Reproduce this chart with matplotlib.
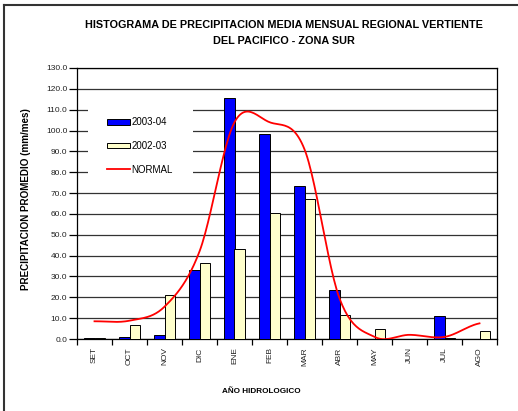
import numpy as np
import matplotlib
matplotlib.use("Agg")
import matplotlib.pyplot as plt
from matplotlib.patches import Patch, Rectangle
from matplotlib.lines import Line2D

plt.rcParams['font.family'] = ['Liberation Sans', 'DejaVu Sans']

meses = ['SET', 'OCT', 'NOV', 'DIC', 'ENE', 'FEB', 'MAR', 'ABR', 'MAY', 'JUN', 'JUL', 'AGO']
p_2003_04 = [0.3, 1.0, 2.0, 33.0, 115.5, 98.5, 73.5, 23.5, 0.0, 0.0, 11.2, 0.0]
p_2002_03 = [0.3, 6.5, 21.0, 36.5, 43.0, 60.5, 67.0, 11.5, 5.0, 0.0, 0.3, 3.8]
normal = [8.5, 8.8, 15.5, 42.0, 104.0, 104.0, 91.0, 19.5, 1.0, 2.0, 1.0, 7.5]


def smooth(y, n=25):
    # catmull-rom like the excel smoothed line
    y = np.asarray(y, dtype=float)
    p = np.concatenate([[y[0]], y, [y[-1]]])
    xs, ys = [], []
    for i in range(len(y) - 1):
        p0, p1, p2, p3 = p[i], p[i + 1], p[i + 2], p[i + 3]
        t = np.linspace(0, 1, n, endpoint=False)
        m1 = (p2 - p0) / 2
        m2 = (p3 - p1) / 2
        h = (2*t**3 - 3*t**2 + 1) * p1 + (t**3 - 2*t**2 + t) * m1 \
            + (-2*t**3 + 3*t**2) * p2 + (t**3 - t**2) * m2
        xs.extend(i + t)
        ys.extend(h)
    xs.append(len(y) - 1)
    ys.append(y[-1])
    return np.array(xs), np.array(ys)


fig = plt.figure(figsize=(5.18, 4.11), dpi=100)
ax = fig.add_axes([77/518, 72/411, 420/518, 271/411])

x = np.arange(len(meses))
w = 0.29
ax.bar(x - 0.145, p_2003_04, w, color='#0000ff', edgecolor='black', lw=0.7, zorder=3)
ax.bar(x + 0.145, p_2002_03, w, color='#ffffcc', edgecolor='black', lw=0.7, zorder=3)
sx, sy = smooth(normal)
ax.plot(sx, sy, color='#ff0000', lw=1.3, zorder=4)

ax.set_xlim(-0.5, 11.5)
ax.set_ylim(0, 130)
ax.set_yticks(np.arange(0, 131, 10))
ax.set_yticklabels(['%.1f' % v for v in np.arange(0, 131, 10)], fontsize=6, color='#222222')
ax.yaxis.grid(True, color='#333333', lw=0.9, zorder=0)
ax.set_axisbelow(True)
ax.tick_params(axis='y', length=6, width=0.9, pad=1)

ax.set_xticks(x)
ax.set_xticklabels(meses, rotation=90, fontsize=6, va='top', color='#222222')
ax.set_xticks(np.arange(-0.5, 12, 1), minor=True)
ax.tick_params(axis='x', which='major', length=0, pad=6)
ax.tick_params(axis='x', which='minor', length=4, width=0.9)
for s in ax.spines.values():
    s.set_color('black')
    s.set_linewidth(0.9)

# legend box over the grid
ax.add_patch(Rectangle((0.026, 0.58), 0.25, 0.3, transform=ax.transAxes,
                       facecolor='white', edgecolor='none', zorder=1))
handles = [Patch(facecolor='#0000ff', edgecolor='black', lw=0.7, label='2003-04'),
           Patch(facecolor='#ffffcc', edgecolor='black', lw=0.7, label='2002-03'),
           Line2D([], [], color='#ff0000', lw=1.3, label='NORMAL')]
ax.legend(handles=handles, loc='upper left', bbox_to_anchor=(0.072, 0.818),
          frameon=False, fontsize=7, handlelength=2.3, handleheight=0.5,
          labelspacing=1.4, handletextpad=0.2, borderpad=0, borderaxespad=0)

fig.text(284/518, 1 - 25/411, 'HISTOGRAMA DE PRECIPITACION MEDIA MENSUAL REGIONAL VERTIENTE',
         ha='center', va='center', fontsize=7.8, fontweight='bold')
fig.text(284/518, 1 - 41/411, 'DEL PACIFICO - ZONA SUR',
         ha='center', va='center', fontsize=7.8, fontweight='bold')
fig.text(26/518, 1 - 199/411, 'PRECIPITACION PROMEDIO (mm/mes)', rotation=90,
         ha='center', va='center', fontsize=7.1, fontweight='bold')
fig.text(261/518, 1 - 391/411, 'AÑO HIDROLOGICO',
         ha='center', va='center', fontsize=5.9, fontweight='bold')

# outer frame (left and top only)
fig.add_artist(Line2D([4/518, 4/518], [0, 1 - 5/411], color='#333333', lw=1.5))
fig.add_artist(Line2D([4/518, 1], [1 - 5/411, 1 - 5/411], color='#333333', lw=1.5))

fig.savefig('out.png', dpi=100)
